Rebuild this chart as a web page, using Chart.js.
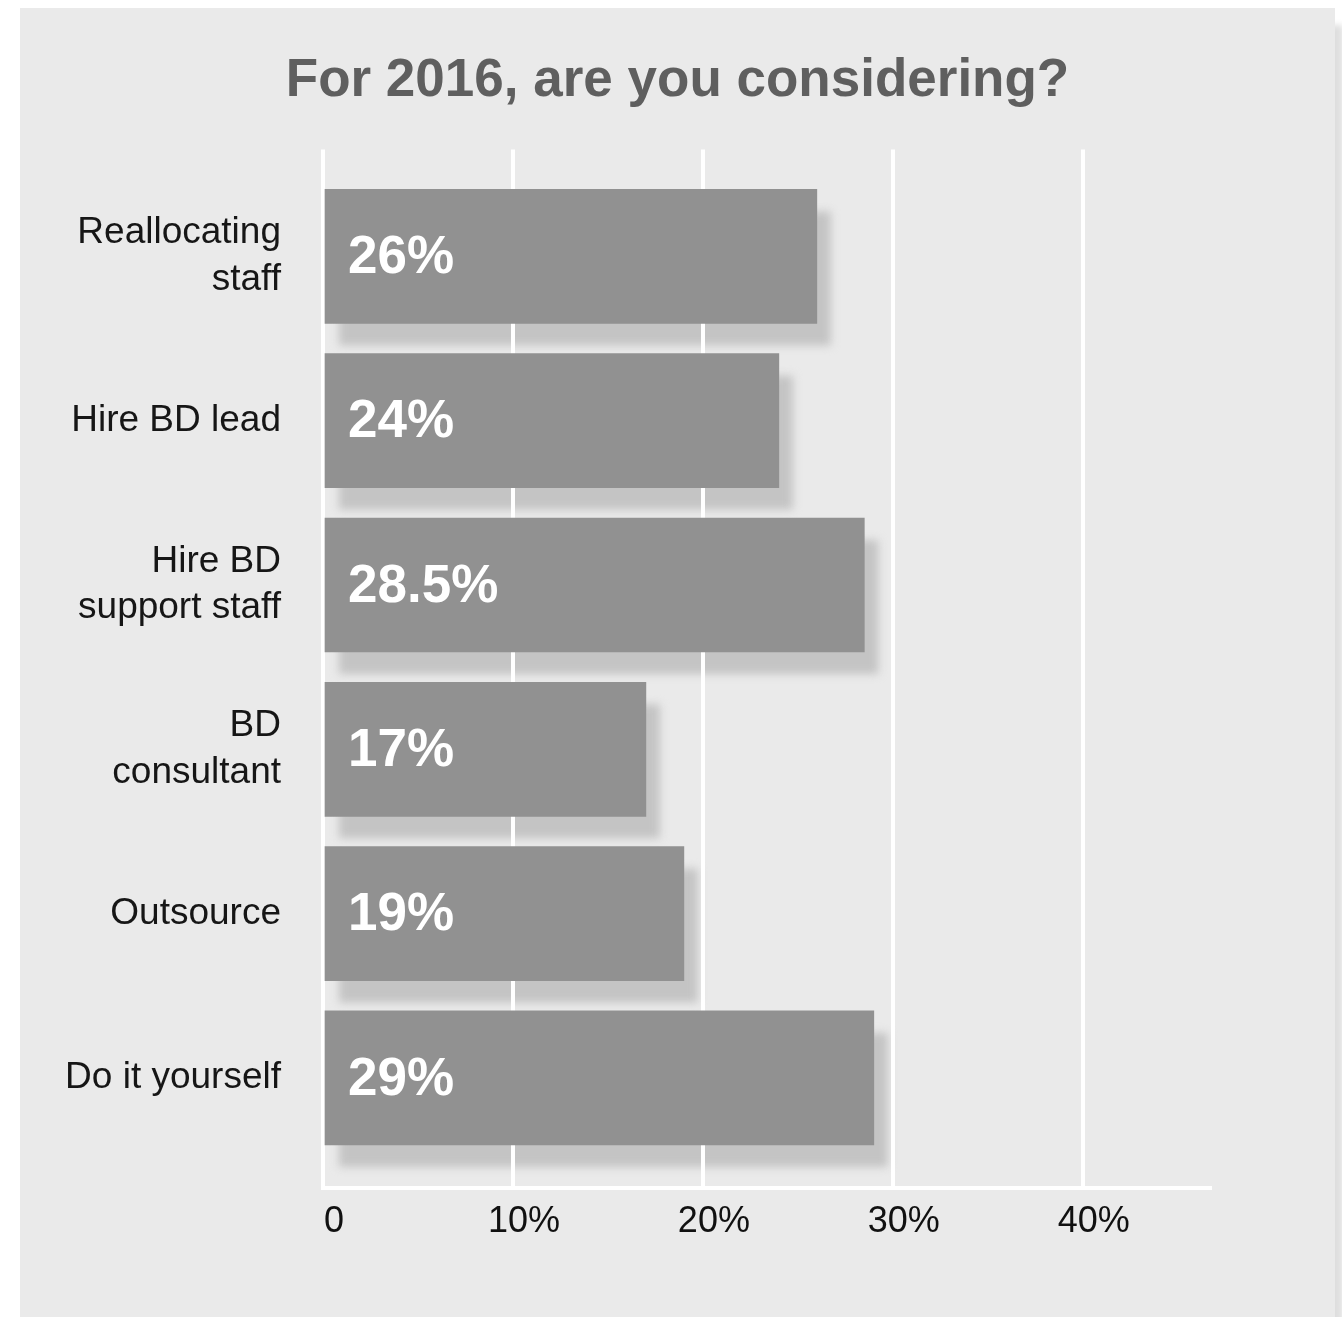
<!DOCTYPE html>
<html>
<head>
<meta charset="utf-8">
<script src="https://cdn.jsdelivr.net/npm/chart.js@4.4.1/dist/chart.umd.min.js"></script>
<style>
  html, body { margin: 0; padding: 0; background: #ffffff; overflow: hidden; }
  #panel {
    position: absolute; left: 20px; top: 8px; width: 1315px; height: 1340px;
    background: #eaeaea;
    box-shadow: 8px 17px 6px rgba(0, 0, 0, 0.13);
  }
  #chart { position: absolute; left: 0; top: 0; }
</style>
</head>
<body>
<div id="panel"><canvas id="chart" width="1315" height="1309"></canvas></div>
<script>
// Survey answers, top to bottom
const titleText = 'For 2016, are you considering?';
const categories = [
  ['Reallocating', 'staff'],
  'Hire BD lead',
  ['Hire BD', 'support staff'],
  ['BD', 'consultant'],
  'Outsource',
  'Do it yourself'
];
const values = [26, 24, 28.5, 17, 19, 29];

// Percentage axis
const tickValues = [0, 10, 20, 30, 40];
const tickLabels = ['0', '10%', '20%', '30%', '40%'];

const FONT = "'Liberation Sans', Arial, Helvetica, sans-serif";
Chart.defaults.font.family = FONT;

// Soft drop shadow behind each bar, painted before the grid so grid lines cross it
const barShadow = {
  id: 'barShadow',
  beforeDraw(chart) {
    const ctx = chart.ctx;
    const meta = chart.getDatasetMeta(0);
    ctx.save();
    ctx.filter = 'blur(4px)';
    ctx.fillStyle = '#c4c4c4';
    meta.data.forEach(bar => {
      const p = bar.getProps(['x', 'y', 'base', 'height'], true);
      const left = Math.min(p.base, p.x);
      const w = Math.abs(p.x - p.base);
      ctx.fillRect(left + 14, p.y - p.height / 2 + 22, w, p.height);
    });
    ctx.restore();
  }
};

// White value text inside each bar
const barValues = {
  id: 'barValues',
  afterDatasetsDraw(chart) {
    const ctx = chart.ctx;
    const meta = chart.getDatasetMeta(0);
    ctx.save();
    ctx.fillStyle = '#ffffff';
    ctx.font = 'bold 53px ' + FONT;
    ctx.textAlign = 'left';
    ctx.textBaseline = 'middle';
    meta.data.forEach((bar, i) => {
      const p = bar.getProps(['y', 'base'], true);
      ctx.fillText(values[i] + '%', p.base + 23, p.y + 2);
    });
    ctx.restore();
  }
};

new Chart(document.getElementById('chart'), {
  type: 'bar',
  data: {
    datasets: [{
      data: values.map((v, i) => ({ x: v, y: i })),
      backgroundColor: '#919191',
      borderWidth: 0,
      barThickness: 134
    }]
  },
  options: {
    indexAxis: 'y',
    responsive: false,
    animation: false,
    devicePixelRatio: 1,
    layout: { padding: { left: 0, right: 0, top: 0, bottom: 77 } },
    plugins: {
      legend: { display: false },
      tooltip: { enabled: false },
      title: {
        display: true,
        text: titleText,
        color: '#5f5f5f',
        font: { family: FONT, size: 53, weight: 'bold', lineHeight: 1.2 },
        padding: { top: 42, bottom: 36 }
      }
    },
    scales: {
      x: {
        type: 'linear',
        position: 'bottom',
        weight: 0,
        min: 0,
        max: 46.7,
        afterBuildTicks: s => { s.ticks = tickValues.map(v => ({ value: v })); },
        grid: { color: '#ffffff', lineWidth: 4, drawTicks: false, tickLength: 0 },
        border: { display: true, color: '#ffffff', width: 4 },
        ticks: { display: false }
      },
      xLabels: {
        type: 'linear',
        position: 'bottom',
        weight: 1,
        min: -0.58,
        max: 46.12,
        afterBuildTicks: s => { s.ticks = tickValues.map(v => ({ value: v })); },
        afterFit: s => { s.height = 52; },
        grid: { display: false, drawTicks: false, tickLength: 0 },
        border: { display: false },
        ticks: {
          padding: 12,
          color: '#111111',
          font: { family: FONT, size: 36 },
          maxRotation: 0,
          autoSkip: false,
          callback: v => tickLabels[tickValues.indexOf(v)]
        }
      },
      y: {
        type: 'linear',
        reverse: true,
        offset: false,
        min: -0.65,
        max: 5.67,
        afterBuildTicks: s => { s.ticks = categories.map((_, i) => ({ value: i })); },
        afterFit: s => { s.width = 303; },
        grid: { display: false, drawTicks: false, tickLength: 0, offset: false },
        border: { display: false },
        ticks: {
          padding: 42,
          color: '#161616',
          font: { family: FONT, size: 37, lineHeight: 1.25 },
          autoSkip: false,
          callback: v => categories[v]
        }
      },
      // empty right-hand margin so the plot ends where the axis line stops
      margin: {
        type: 'linear',
        position: 'right',
        min: 0,
        max: 1,
        afterFit: s => { s.width = 125; },
        grid: { display: false, drawTicks: false, tickLength: 0 },
        border: { display: false },
        ticks: { display: false }
      }
    }
  },
  plugins: [barShadow, barValues]
});
</script>
</body>
</html>
